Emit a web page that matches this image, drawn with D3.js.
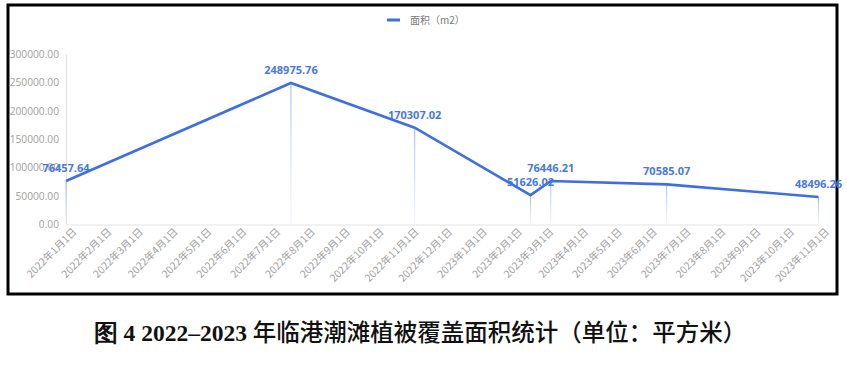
<!DOCTYPE html>
<html>
<head>
<meta charset="utf-8">
<script src="https://cdn.jsdelivr.net/npm/d3@7"></script>
<style>
  body { margin: 0; background: #fff; }
  svg { display: block; }
</style>
</head>
<body>
<div id="chart"></div>
<script>
// survey dates and covered area (m2)
let dates  = ["2022-01-01", "2022-07-20", "2022-11-07", "2023-02-18", "2023-03-08", "2023-06-19", "2023-11-01"];
let areas  = [76457.64, 248975.76, 170307.02, 51626.02, 76446.21, 70585.07, 48496.26];
let yTicks = [0, 50000, 100000, 150000, 200000, 250000, 300000];
let seriesName = "面积（m2）";
let captionHead = "图 4 2022–2023 ";
let captionTail = "年临港潮滩植被覆盖面积统计（单位：平方米）";

let parse = d3.timeParse("%Y-%m-%d");
let data = dates.map(function (d, i) { return {date: parse(d), value: areas[i]}; });

let width  = 847;
let height = 388;
let margin = {top: 54, bottom: 164, left: 66, right: 28};
let blue = "#3d6fe3";

let svg = d3.select("#chart")
    .append("svg")
        .attr("width", width)
        .attr("height", height)
        .style("background", "#fff");

// outer frame
svg.append("rect")
    .attr("x", 8).attr("y", 5)
    .attr("width", 829).attr("height", 289)
    .attr("fill", "none")
    .attr("stroke", "#000")
    .attr("stroke-width", 3);

let g = svg.append("g")
    .attr("transform", "translate(" + margin.left + "," + margin.top + ")");

let innerH = height - margin.top - margin.bottom;

let xScale = d3.scaleTime()
    .domain([parse("2022-01-01"), parse("2023-11-01")])
    .range([0, 752.5]);

let yScale = d3.scaleLinear()
    .domain([0, 300000])
    .range([innerH + 0.5, 0]);

// y axis
let yAxis = d3.axisLeft(yScale)
    .tickValues(yTicks)
    .tickSize(0)
    .tickPadding(7)
    .tickFormat(d3.format(".2f"));
let yg = g.append("g").attr("class", "y axis").call(yAxis);
yg.select(".domain").attr("stroke", "#e3e3e3");
yg.selectAll("text")
    .attr("fill", "#a0a0a0")
    .style("font-family", "'Open Sans', 'Noto Sans', sans-serif")
    .style("font-size", "10.2px");

// x axis, one tick per month
let fmt = function (d) { return d.getFullYear() + "年" + (d.getMonth() + 1) + "月" + d.getDate() + "日"; };
let xAxis = d3.axisBottom(xScale)
    .ticks(d3.timeMonth.every(1))
    .tickSize(0)
    .tickPadding(8)
    .tickFormat(fmt);
let xg = g.append("g")
    .attr("class", "x axis")
    .attr("transform", "translate(0," + (innerH + 0.5) + ")")
    .call(xAxis);
xg.select(".domain").attr("stroke", "#e3e3e3");
xg.selectAll("text")
    .attr("fill", "#a0a0a0")
    .style("font-family", "'Noto Sans CJK SC', sans-serif")
    .style("font-size", "10.3px")
    .attr("text-anchor", "end")
    .attr("dy", "0.3em")
    .attr("transform", "translate(3,0) rotate(-45)");

// fading drop lines under each point
let grad = svg.append("defs").append("linearGradient")
    .attr("id", "drop-gradient")
    .attr("x1", 0).attr("y1", 0)
    .attr("x2", 0).attr("y2", 1);
grad.selectAll("stop")
    .data([
        {offset: "0%", color: "#8eaaf0", op: 0.9},
        {offset: "100%", color: "#c9d6f6", op: 0.25}
    ])
    .enter().append("stop")
        .attr("offset", d => d.offset)
        .attr("stop-color", d => d.color)
        .attr("stop-opacity", d => d.op);

g.selectAll(".drop")
    .data(data)
    .enter()
    .append("rect")
        .attr("class", "drop")
        .attr("x", d => xScale(d.date) - 0.5)
        .attr("y", d => yScale(d.value))
        .attr("width", 1)
        .attr("height", d => yScale(0) - yScale(d.value))
        .attr("fill", "url(#drop-gradient)");

// the line
let line = d3.line()
    .x(d => xScale(d.date))
    .y(d => yScale(d.value));

g.append("path")
    .datum(data)
    .attr("fill", "none")
    .attr("stroke", blue)
    .attr("stroke-width", 2.6)
    .attr("d", line);

// value labels
g.selectAll(".lbl")
    .data(data)
    .enter()
    .append("text")
        .attr("class", "lbl")
        .attr("x", d => xScale(d.date))
        .attr("y", d => yScale(d.value) - 9)
        .attr("text-anchor", "middle")
        .attr("fill", "#4a78e0")
        .style("font-family", "'Open Sans', 'Noto Sans', sans-serif")
        .style("font-weight", "bold")
        .style("font-size", "11px")
        .text(d => d.value.toFixed(2));

// legend
let legend = svg.append("g").attr("transform", "translate(387,20)");
legend.append("line")
    .attr("x1", 0).attr("x2", 13)
    .attr("y1", 0).attr("y2", 0)
    .attr("stroke", blue)
    .attr("stroke-width", 3);
legend.append("text")
    .attr("x", 23).attr("y", 3.5)
    .attr("fill", "#7a7a7a")
    .style("font-family", "'Noto Sans CJK SC', sans-serif")
    .style("font-size", "10px")
    .text(seriesName);

// caption under the frame
let cap = svg.append("text")
    .attr("x", 420).attr("y", 341)
    .attr("text-anchor", "middle")
    .attr("fill", "#111")
    .style("font-size", "23.5px");
cap.append("tspan")
    .style("font-family", "'Liberation Serif', serif")
    .style("font-weight", "bold")
    .text(captionHead);
cap.append("tspan")
    .style("font-family", "'Noto Sans CJK SC', sans-serif")
    .style("font-weight", "500")
    .text(captionTail);
</script>
</body>
</html>
